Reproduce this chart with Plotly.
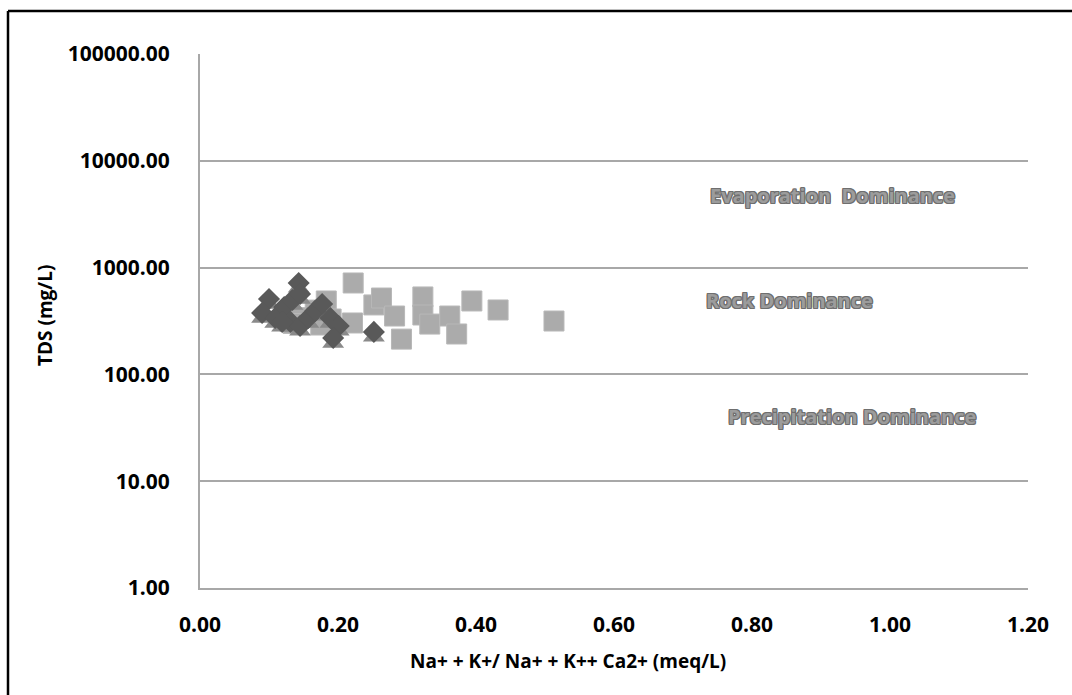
import math
import plotly.graph_objects as go

# ---- data ----
square_ratio = [0.222, 0.183, 0.221, 0.252, 0.263, 0.282, 0.292, 0.323, 0.323, 0.333,
                0.362, 0.372, 0.394, 0.432, 0.513, 0.190, 0.145, 0.167, 0.135, 0.175]
square_tds = [718, 487, 303, 447, 519, 352, 214, 531, 360, 296,
              352, 239, 487, 401, 316, 330, 340, 400, 300, 290]

diamond_ratio = [0.143, 0.100, 0.090, 0.109, 0.122, 0.134, 0.145, 0.131, 0.145, 0.157,
                 0.167, 0.177, 0.189, 0.201, 0.193, 0.252, 0.119]
diamond_tds = [718, 508, 376, 337, 428, 497, 566, 310, 284, 337,
               393, 456, 337, 284, 219, 250, 310]

triangle_ratio = [0.143, 0.100, 0.090, 0.109, 0.122, 0.134, 0.145, 0.131, 0.145, 0.157,
                  0.167, 0.177, 0.189, 0.201, 0.193, 0.252, 0.119]
triangle_tds = [646, 457, 338, 303, 385, 447, 509, 279, 256, 303,
                354, 410, 303, 256, 197, 225, 279]

y_tickvals = [1, 10, 100, 1000, 10000, 100000]
y_ticktext = ["1.00", "10.00", "100.00", "1000.00", "10000.00", "100000.00"]
x_tickvals = [0.0, 0.2, 0.4, 0.6, 0.8, 1.0, 1.2]
x_ticktext = ["0.00", "0.20", "0.40", "0.60", "0.80", "1.00", "1.20"]

zones = ["Evaporation  Dominance", "Rock Dominance", "Precipitation Dominance"]
zone_x = [0.917, 0.855, 0.945]
zone_y = [4700, 490, 40]

# ---- figure ----
W, H = 1072, 695
L, R, T, B = 200, 44, 54, 107
pw, ph = W - L - R, H - T - B

def px(x):
    return (x - L) / pw

def py(y):
    return (H - B - y) / ph

FONT = "Open Sans"
fig = go.Figure()

fig.add_trace(go.Scatter(
    x=square_ratio, y=square_tds, mode="markers",
    marker=dict(symbol="square", size=20, color="#ABABAB",
                line=dict(color="#B8B8B8", width=1)),
    showlegend=False, hoverinfo="skip"))
fig.add_trace(go.Scatter(
    x=triangle_ratio, y=triangle_tds, mode="markers",
    marker=dict(symbol="triangle-up", size=19, color="#8A8A8A", line=dict(width=0)),
    showlegend=False, hoverinfo="skip"))
fig.add_trace(go.Scatter(
    x=diamond_ratio, y=diamond_tds, mode="markers",
    marker=dict(symbol="diamond", size=17, color="#595959", line=dict(width=0)),
    showlegend=False, hoverinfo="skip"))

shadow = ("1px 0 0 #6f6f6f, -1px 0 0 #6f6f6f, 0 1px 0 #6f6f6f, 0 -1px 0 #6f6f6f, "
          "1px 1px 0 #6f6f6f, -1px -1px 0 #6f6f6f, 1px -1px 0 #6f6f6f, -1px 1px 0 #6f6f6f")
for t, xx, yy in zip(zones, zone_x, zone_y):
    fig.add_annotation(x=xx, y=math.log10(yy), xref="x", yref="y", text=t, showarrow=False,
                       xanchor="center", yanchor="middle",
                       font=dict(family=FONT, size=20, color="#9C9C9C",
                                 weight="bold", shadow=shadow))

# axis titles
fig.add_annotation(x=px(568), y=py(661), xref="paper", yref="paper",
                   text="Na+ + K+/ Na+ + K++ Ca2+ (meq/L)", showarrow=False,
                   xanchor="center", yanchor="middle",
                   font=dict(family=FONT, size=19, color="#000000", weight="bold"))
fig.add_annotation(x=px(45), y=py(316), xref="paper", yref="paper",
                   text="TDS (mg/L)", showarrow=False, textangle=-90,
                   xanchor="center", yanchor="middle",
                   font=dict(family=FONT, size=19, color="#000000", weight="bold"))

# outer frame (left and top edges)
fig.add_shape(type="line", xref="paper", yref="paper",
              x0=px(8), x1=px(8), y0=py(H + 5), y1=py(11),
              line=dict(color="#000000", width=2.5))
fig.add_shape(type="line", xref="paper", yref="paper",
              x0=px(8), x1=px(W + 5), y0=py(11), y1=py(11),
              line=dict(color="#000000", width=2.5))

fig.update_layout(
    width=W, height=H,
    margin=dict(l=L, r=R, t=T, b=B, pad=0),
    paper_bgcolor="white", plot_bgcolor="white",
    showlegend=False,
    xaxis=dict(range=[0, 1.2], tickvals=x_tickvals, ticktext=x_ticktext,
               showgrid=False, zeroline=False, showline=True,
               linecolor="#A8A8A8", linewidth=2, ticks="", ticklabelstandoff=17,
               tickfont=dict(family=FONT, size=21, color="#000000", weight="bold")),
    yaxis=dict(type="log", range=[0, 5], tickvals=y_tickvals, ticktext=y_ticktext,
               showgrid=True, gridcolor="#A8A8A8", gridwidth=2, zeroline=False,
               showline=True, linecolor="#A8A8A8", linewidth=2, ticks="",
               ticklabelstandoff=24,
               tickfont=dict(family=FONT, size=21, color="#000000", weight="bold")),
)

fig.write_html("out.html")
